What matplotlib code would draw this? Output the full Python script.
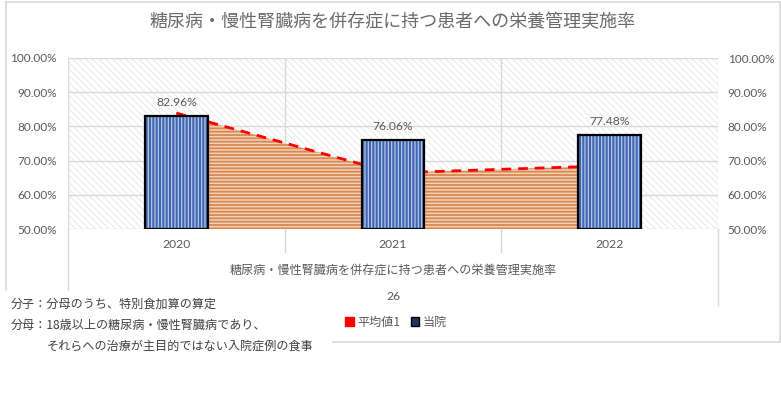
import matplotlib
matplotlib.use("Agg")
import matplotlib.pyplot as plt
from matplotlib.patches import Rectangle, Patch
from matplotlib.lines import Line2D
from matplotlib.ticker import FuncFormatter, MultipleLocator
import numpy as np

# ---- data ----
years = ["2020", "2021", "2022"]
hospital = [82.96, 76.06, 77.48]      # 当院
average = [83.9, 66.4, 68.5]          # 平均値1
title = "糖尿病・慢性腎臓病を併存症に持つ患者への栄養管理実施率"
group_label = "糖尿病・慢性腎臓病を併存症に持つ患者への栄養管理実施率"
sub_label = "26"
legend_labels = ["平均値1", "当院"]
note_lines = ["分子：分母のうち、特別食加算の算定",
              "分母：18歳以上の糖尿病・慢性腎臓病であり、",
              "それらへの治療が主目的ではない入院症例の食事"]
y_ticks = [50, 60, 70, 80, 90, 100]

JP = ["Noto Sans CJK JP", "DejaVu Sans"]
NUM = ["Lato", "Noto Sans CJK JP", "DejaVu Sans"]
plt.rcParams["font.family"] = JP
GRAY = "#595959"
GRID = "#D9D9D9"

W, H = 781, 394
fig = plt.figure(figsize=(W / 100, H / 100), dpi=100)
fig.patch.set_facecolor("white")

def fx(px):
    return px / W

def fy(py):
    return 1 - py / H

L, R, T, B = 68, 718, 58, 229
ax = fig.add_axes([fx(L), fy(B), (R - L) / W, (B - T) / H])
ax.set_xlim(-0.5, 2.5)
ax.set_ylim(50, 100)
ax.patch.set_facecolor("white")

# background hatch
bg = Rectangle((0, 0), 1, 1, transform=ax.transAxes, facecolor="white",
               edgecolor="#E2E2E2", hatch="\\\\\\\\\\", linewidth=0, zorder=0)
if hasattr(bg, "set_hatch_linewidth"):
    bg.set_hatch_linewidth(0.5)
ax.add_patch(bg)

# grid
for yv in y_ticks:
    ax.axhline(yv, color=GRID, lw=1.0, zorder=1)
for xv in [-0.5, 0.5, 1.5, 2.5]:
    ax.axvline(xv, color=GRID, lw=1.0, zorder=1)

x = np.arange(len(years))

# average area
area = ax.fill_between(x, 50, average, facecolor="#F2D2BC", edgecolor="#D8874F",
                       hatch="-----", linewidth=0, zorder=2)
if hasattr(area, "set_hatch_linewidth"):
    area.set_hatch_linewidth(1.3)
ax.plot(x, average, color="#FF0000", lw=2.0, dashes=(3.5, 2.5), zorder=3)

# bars
bw = 0.29
bars = ax.bar(x, np.array(hospital) - 50, bottom=50, width=bw, color="#4066AE",
              edgecolor="#B4C7EA", hatch="|||||", linewidth=0, zorder=4)
for b in bars:
    if hasattr(b, "set_hatch_linewidth"):
        b.set_hatch_linewidth(0.9)
ax.bar(x, np.array(hospital) - 50, bottom=50, width=bw, facecolor="none",
       edgecolor="black", linewidth=1.6, zorder=5)

for xi, v in zip(x, hospital):
    ax.annotate(f"{v:.2f}%", (xi, v), xytext=(0, 6), textcoords="offset points",
                ha="center", va="bottom", fontsize=8.7, color=GRAY, family=NUM, zorder=6)

# axes styling
for s in ax.spines.values():
    s.set_visible(False)
ax.set_xticks(x)
ax.set_xticklabels(years, family=NUM, fontsize=8.7, color=GRAY)
ax.tick_params(axis="x", length=0, pad=7)
ax.yaxis.set_major_locator(MultipleLocator(10))
fmt = FuncFormatter(lambda v, p: f"{v:.2f}%")
ax.yaxis.set_major_formatter(fmt)
ax.tick_params(axis="y", length=0, pad=8, labelsize=8.5, labelcolor=GRAY)
for t in ax.get_yticklabels():
    t.set_family(NUM)

ax2 = ax.twinx()
ax2.set_ylim(50, 100)
ax2.yaxis.set_major_locator(MultipleLocator(10))
ax2.yaxis.set_major_formatter(fmt)
ax2.tick_params(axis="y", length=0, pad=7, labelsize=8.5, labelcolor=GRAY)
for t in ax2.get_yticklabels():
    t.set_family(NUM)
for s in ax2.spines.values():
    s.set_visible(False)

# category separators extending below axis
def ay(py):
    return (B - py) / (B - T)
for xv, bottom_px in [(-0.5, 290), (0.5, 252), (1.5, 252), (2.5, 305)]:
    ax.plot([xv, xv], [0, ay(bottom_px)], color=GRID, lw=1.0,
            transform=ax.get_xaxis_transform(), clip_on=False, zorder=1)

# title and group labels
fig.text(fx(392), fy(22), title, ha="center", va="center", fontsize=13, color="#6A6A6A")
fig.text(fx(393), fy(270), group_label, ha="center", va="center", fontsize=8.7, color=GRAY)
fig.text(fx(393), fy(297), sub_label, ha="center", va="center", fontsize=8.7,
         color=GRAY, family=NUM)

# legend
handles = [Patch(facecolor="#FF0000", edgecolor="#FF0000", hatch="---"),
           Patch(facecolor="#1F3464", edgecolor="black")]
leg = fig.legend(handles, legend_labels, loc="center", bbox_to_anchor=(fx(396), fy(322)),
                 ncol=2, frameon=False, fontsize=8.7, handlelength=0.7, handleheight=0.8,
                 handletextpad=0.25, columnspacing=0.9, borderaxespad=0, borderpad=0)
for t in leg.get_texts():
    t.set_color(GRAY)

# chart border lines
border = "#D9D9D9"
fig.add_artist(Line2D([fx(6), fx(780)], [fy(2), fy(2)], color=border, lw=1.2))
fig.add_artist(Line2D([fx(780), fx(780)], [fy(2), fy(342)], color=border, lw=1.2))
fig.add_artist(Line2D([fx(6), fx(6)], [fy(2), fy(290)], color=border, lw=1.2))
fig.add_artist(Line2D([fx(333), fx(780)], [fy(342), fy(342)], color=border, lw=1.2))

# notes
NOTE = "#404040"
fig.text(fx(11), fy(304), note_lines[0], ha="left", va="center", fontsize=8.7, color=NOTE)
fig.text(fx(11), fy(325), note_lines[1], ha="left", va="center", fontsize=8.7, color=NOTE)
fig.text(fx(47), fy(346), note_lines[2], ha="left", va="center", fontsize=8.7, color=NOTE)

fig.savefig("out.png", dpi=100, facecolor="white")
